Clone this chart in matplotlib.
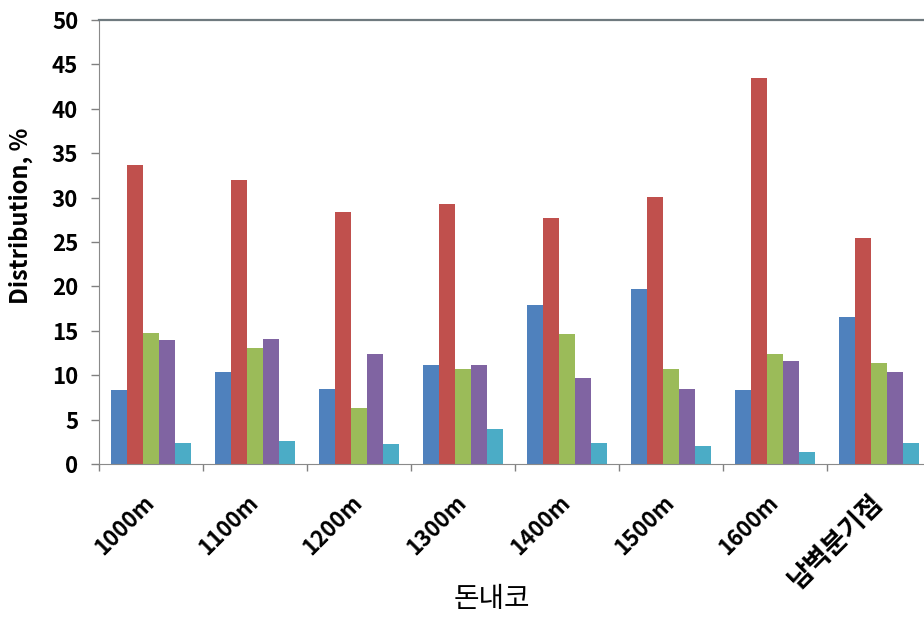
import numpy as np
import matplotlib.pyplot as plt

plt.rcParams['font.family'] = ['Noto Sans CJK KR', 'DejaVu Sans']

categories = ['1000m', '1100m', '1200m', '1300m', '1400m', '1500m', '1600m', '남벽분기점']
s1 = [8.3, 10.4, 8.5, 11.2, 17.9, 19.7, 8.3, 16.5]
s2 = [33.7, 32.0, 28.4, 29.3, 27.7, 30.1, 43.5, 25.5]
s3 = [14.8, 13.1, 6.3, 10.7, 14.6, 10.7, 12.4, 11.4]
s4 = [14.0, 14.1, 12.4, 11.2, 9.7, 8.5, 11.6, 10.4]
s5 = [2.4, 2.6, 2.2, 3.9, 2.4, 2.0, 1.4, 2.4]
series = [s1, s2, s3, s4, s5]
colors = ['#4F81BD', '#C0504D', '#9BBB59', '#8064A2', '#4BACC6']

fig = plt.figure(figsize=(9.24, 6.2), dpi=100)
ax = fig.add_axes([99 / 924, 1 - 464 / 620, 832 / 924, 444 / 620])

x = np.arange(len(categories))
w = 0.154
for i, (vals, c) in enumerate(zip(series, colors)):
    ax.bar(x + (i - 2) * w, vals, width=w, color=c, linewidth=0)

ax.set_xlim(-0.5, len(categories) - 0.5)
ax.set_ylim(0, 50)
ax.set_yticks(range(0, 51, 5))
ax.tick_params(axis='y', labelsize=16, length=6, width=1, color='#808080', pad=9)
for t in ax.get_yticklabels():
    t.set_fontweight('bold')

ax.set_xticks(x)
ax.set_xticklabels(categories, rotation=45, ha='right', va='center',
                   rotation_mode='anchor', fontsize=16, fontweight='bold')
# the Korean label is drawn larger in the original
ax.get_xticklabels()[-1].set_fontsize(19)
ax.tick_params(axis='x', which='major', length=0, pad=25)
ax.set_xticks(np.arange(-0.5, len(categories), 1), minor=True)
ax.tick_params(axis='x', which='minor', length=5, width=1, color='#808080')

for side in ['left', 'bottom']:
    ax.spines[side].set_color('#8a8a8a')
ax.spines['top'].set_color('#6f7a7f')
ax.spines['top'].set_linewidth(1.6)
ax.spines['right'].set_visible(False)

ax.set_ylabel('Distribution, %', fontsize=17, fontweight='bold')
ax.yaxis.set_label_coords(-0.079, 0.559)
ax.set_xlabel('돈내코', fontsize=20)
ax.xaxis.set_label_coords((492 - 99) / 832, -0.27)

fig.savefig('out.png', dpi=100)
